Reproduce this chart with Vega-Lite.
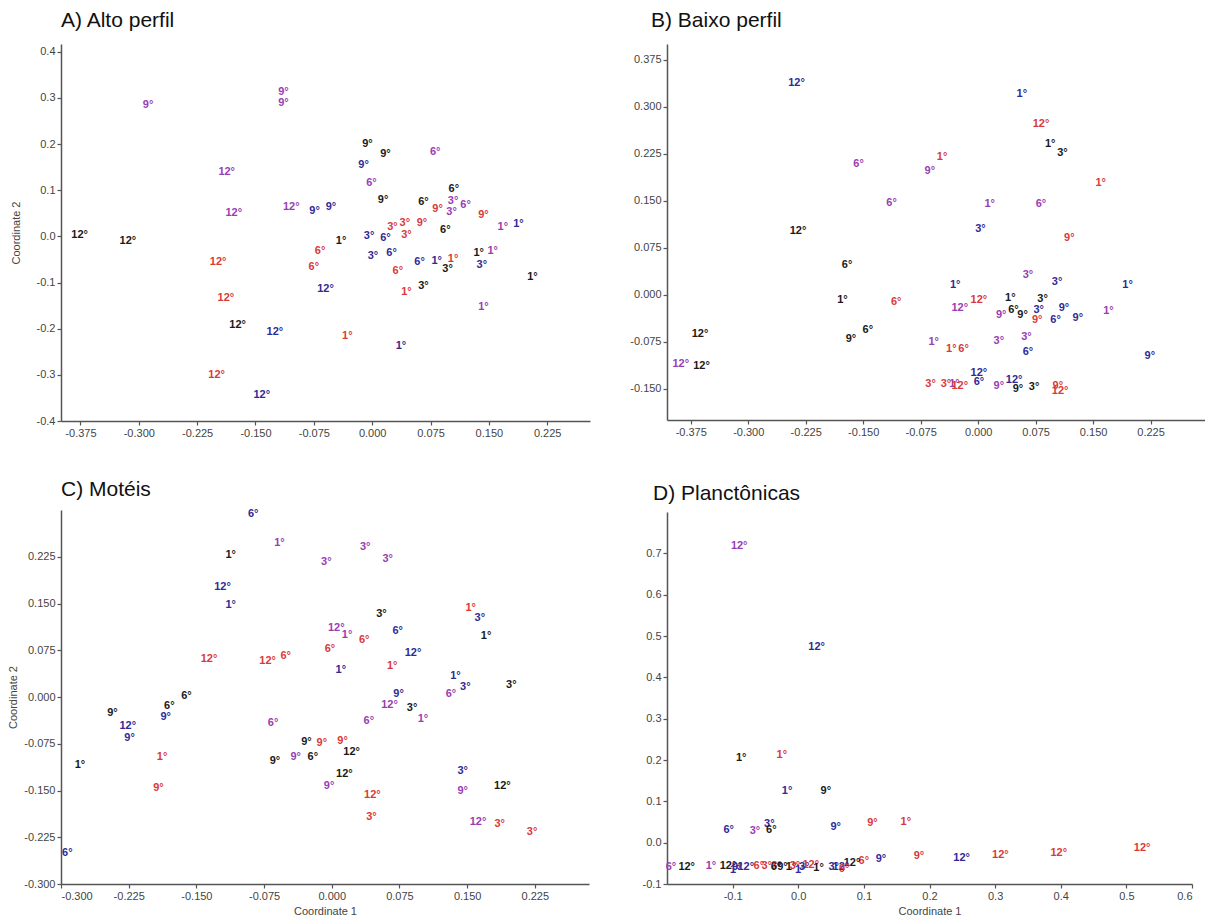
{
"$schema": "https://vega.github.io/schema/vega-lite/v6.json",
"padding": {"left": 7, "top": 10, "right": 0, "bottom": 0},
"background": "white",
"config": {
  "view": {"stroke": null},
  "axis": {"grid": false, "domainColor": "#555", "domainWidth": 1.5, "tickColor": "#555", "tickSize": 4, "tickWidth": 1.2, "labelColor": "#444", "labelFont": "Liberation Sans", "labelFontSize": 11, "labelPadding": 2, "titleFont": "Liberation Sans", "titleFontSize": 11, "titleFontWeight": "normal", "titleColor": "#444"},
  "title": {"font": "Liberation Sans", "fontSize": 21, "fontWeight": "normal", "color": "#111", "anchor": "start", "frame": "group"},
  "text": {"font": "Liberation Sans", "fontSize": 11, "fontWeight": "bold"}
},
"datasets": {"pts": [
{"p":"A","t":"9°","c":"roxo","x":-0.288,"y":0.284},
{"p":"A","t":"9°","c":"roxo","x":-0.114,"y":0.312},
{"p":"A","t":"9°","c":"roxo","x":-0.114,"y":0.289},
{"p":"A","t":"12°","c":"roxo","x":-0.187,"y":0.139},
{"p":"A","t":"12°","c":"roxo","x":-0.178,"y":0.050},
{"p":"A","t":"12°","c":"roxo","x":-0.104,"y":0.063},
{"p":"A","t":"9°","c":"azul","x":-0.074,"y":0.056},
{"p":"A","t":"9°","c":"azul","x":-0.053,"y":0.063},
{"p":"A","t":"9°","c":"preto","x":-0.006,"y":0.200},
{"p":"A","t":"9°","c":"preto","x":0.017,"y":0.178},
{"p":"A","t":"9°","c":"azul","x":-0.011,"y":0.154},
{"p":"A","t":"6°","c":"roxo","x":-0.001,"y":0.115},
{"p":"A","t":"9°","c":"preto","x":0.014,"y":0.078},
{"p":"A","t":"6°","c":"roxo","x":0.081,"y":0.184},
{"p":"A","t":"6°","c":"preto","x":0.105,"y":0.102},
{"p":"A","t":"6°","c":"preto","x":0.066,"y":0.074},
{"p":"A","t":"9°","c":"vermelho","x":0.084,"y":0.059},
{"p":"A","t":"3°","c":"roxo","x":0.104,"y":0.076},
{"p":"A","t":"3°","c":"roxo","x":0.102,"y":0.052},
{"p":"A","t":"6°","c":"roxo","x":0.120,"y":0.069},
{"p":"A","t":"3°","c":"vermelho","x":0.026,"y":0.020},
{"p":"A","t":"3°","c":"vermelho","x":0.042,"y":0.030},
{"p":"A","t":"9°","c":"vermelho","x":0.064,"y":0.030},
{"p":"A","t":"3°","c":"vermelho","x":0.044,"y":0.004},
{"p":"A","t":"9°","c":"vermelho","x":0.143,"y":0.046},
{"p":"A","t":"1°","c":"roxo","x":0.168,"y":0.020},
{"p":"A","t":"1°","c":"azul","x":0.188,"y":0.026},
{"p":"A","t":"6°","c":"preto","x":0.094,"y":0.013},
{"p":"A","t":"12°","c":"preto","x":-0.376,"y":0.002},
{"p":"A","t":"12°","c":"preto","x":-0.314,"y":-0.009},
{"p":"A","t":"1°","c":"preto","x":-0.040,"y":-0.011},
{"p":"A","t":"3°","c":"azul","x":-0.004,"y":0.000},
{"p":"A","t":"6°","c":"azul","x":0.017,"y":-0.004},
{"p":"A","t":"6°","c":"vermelho","x":-0.067,"y":-0.031},
{"p":"A","t":"3°","c":"azul","x":0.001,"y":-0.042},
{"p":"A","t":"6°","c":"azul","x":0.025,"y":-0.036},
{"p":"A","t":"12°","c":"vermelho","x":-0.198,"y":-0.055},
{"p":"A","t":"6°","c":"vermelho","x":-0.075,"y":-0.066},
{"p":"A","t":"6°","c":"vermelho","x":0.033,"y":-0.074},
{"p":"A","t":"6°","c":"azul","x":0.061,"y":-0.056},
{"p":"A","t":"1°","c":"azul","x":0.083,"y":-0.053},
{"p":"A","t":"1°","c":"vermelho","x":0.104,"y":-0.048},
{"p":"A","t":"3°","c":"preto","x":0.097,"y":-0.071},
{"p":"A","t":"1°","c":"preto","x":0.137,"y":-0.036},
{"p":"A","t":"1°","c":"roxo","x":0.155,"y":-0.031},
{"p":"A","t":"3°","c":"azul","x":0.141,"y":-0.062},
{"p":"A","t":"12°","c":"azul","x":-0.060,"y":-0.113},
{"p":"A","t":"1°","c":"vermelho","x":0.044,"y":-0.121},
{"p":"A","t":"3°","c":"preto","x":0.066,"y":-0.107},
{"p":"A","t":"1°","c":"preto","x":0.206,"y":-0.089},
{"p":"A","t":"12°","c":"vermelho","x":-0.188,"y":-0.134},
{"p":"A","t":"1°","c":"roxo","x":0.143,"y":-0.154},
{"p":"A","t":"12°","c":"preto","x":-0.173,"y":-0.192},
{"p":"A","t":"12°","c":"azul","x":-0.125,"y":-0.208},
{"p":"A","t":"1°","c":"vermelho","x":-0.032,"y":-0.215},
{"p":"A","t":"1°","c":"azul","x":0.037,"y":-0.237},
{"p":"A","t":"12°","c":"vermelho","x":-0.200,"y":-0.301},
{"p":"A","t":"12°","c":"azul","x":-0.142,"y":-0.344},

{"p":"B","t":"12°","c":"azul","x":-0.237,"y":0.338},
{"p":"B","t":"6°","c":"roxo","x":-0.156,"y":0.209},
{"p":"B","t":"6°","c":"roxo","x":-0.113,"y":0.147},
{"p":"B","t":"12°","c":"preto","x":-0.235,"y":0.101},
{"p":"B","t":"1°","c":"azul","x":0.057,"y":0.321},
{"p":"B","t":"12°","c":"vermelho","x":0.082,"y":0.272},
{"p":"B","t":"1°","c":"preto","x":0.094,"y":0.240},
{"p":"B","t":"3°","c":"preto","x":0.110,"y":0.226},
{"p":"B","t":"1°","c":"vermelho","x":-0.047,"y":0.219},
{"p":"B","t":"9°","c":"roxo","x":-0.063,"y":0.197},
{"p":"B","t":"1°","c":"vermelho","x":0.160,"y":0.178},
{"p":"B","t":"1°","c":"roxo","x":0.015,"y":0.145},
{"p":"B","t":"6°","c":"roxo","x":0.082,"y":0.145},
{"p":"B","t":"3°","c":"azul","x":0.003,"y":0.104},
{"p":"B","t":"9°","c":"vermelho","x":0.119,"y":0.091},
{"p":"B","t":"6°","c":"preto","x":-0.171,"y":0.048},
{"p":"B","t":"3°","c":"roxo","x":0.065,"y":0.032},
{"p":"B","t":"3°","c":"azul","x":0.103,"y":0.020},
{"p":"B","t":"1°","c":"azul","x":0.195,"y":0.015},
{"p":"B","t":"1°","c":"azul","x":-0.030,"y":0.015},
{"p":"B","t":"1°","c":"preto","x":-0.177,"y":-0.009},
{"p":"B","t":"6°","c":"vermelho","x":-0.107,"y":-0.012},
{"p":"B","t":"12°","c":"roxo","x":-0.024,"y":-0.021},
{"p":"B","t":"12°","c":"vermelho","x":0.001,"y":-0.008},
{"p":"B","t":"1°","c":"preto","x":0.042,"y":-0.006},
{"p":"B","t":"6°","c":"preto","x":0.046,"y":-0.024},
{"p":"B","t":"3°","c":"preto","x":0.084,"y":-0.007},
{"p":"B","t":"9°","c":"roxo","x":0.030,"y":-0.033},
{"p":"B","t":"9°","c":"preto","x":0.058,"y":-0.033},
{"p":"B","t":"9°","c":"vermelho","x":0.077,"y":-0.040},
{"p":"B","t":"3°","c":"azul","x":0.079,"y":-0.024},
{"p":"B","t":"9°","c":"azul","x":0.112,"y":-0.022},
{"p":"B","t":"6°","c":"azul","x":0.101,"y":-0.041},
{"p":"B","t":"9°","c":"azul","x":0.130,"y":-0.037},
{"p":"B","t":"1°","c":"roxo","x":0.170,"y":-0.026},
{"p":"B","t":"12°","c":"preto","x":-0.363,"y":-0.062},
{"p":"B","t":"9°","c":"preto","x":-0.166,"y":-0.070},
{"p":"B","t":"6°","c":"preto","x":-0.144,"y":-0.057},
{"p":"B","t":"1°","c":"roxo","x":-0.058,"y":-0.076},
{"p":"B","t":"1°","c":"vermelho","x":-0.035,"y":-0.086},
{"p":"B","t":"6°","c":"vermelho","x":-0.019,"y":-0.086},
{"p":"B","t":"3°","c":"roxo","x":0.027,"y":-0.074},
{"p":"B","t":"3°","c":"roxo","x":0.063,"y":-0.067},
{"p":"B","t":"6°","c":"azul","x":0.065,"y":-0.092},
{"p":"B","t":"9°","c":"azul","x":0.224,"y":-0.098},
{"p":"B","t":"12°","c":"roxo","x":-0.388,"y":-0.111},
{"p":"B","t":"12°","c":"preto","x":-0.361,"y":-0.114},
{"p":"B","t":"12°","c":"azul","x":0.001,"y":-0.125},
{"p":"B","t":"6°","c":"azul","x":0.001,"y":-0.139},
{"p":"B","t":"12°","c":"azul","x":0.047,"y":-0.136},
{"p":"B","t":"3°","c":"vermelho","x":-0.062,"y":-0.143},
{"p":"B","t":"3°","c":"vermelho","x":-0.042,"y":-0.143},
{"p":"B","t":"1°","c":"roxo","x":-0.031,"y":-0.142},
{"p":"B","t":"12°","c":"vermelho","x":-0.024,"y":-0.146},
{"p":"B","t":"9°","c":"roxo","x":0.027,"y":-0.145},
{"p":"B","t":"9°","c":"preto","x":0.052,"y":-0.150},
{"p":"B","t":"3°","c":"preto","x":0.073,"y":-0.148},
{"p":"B","t":"9°","c":"vermelho","x":0.104,"y":-0.146},
{"p":"B","t":"12°","c":"vermelho","x":0.107,"y":-0.153},

{"p":"C","t":"6°","c":"azul","x":-0.087,"y":0.294},
{"p":"C","t":"1°","c":"roxo","x":-0.058,"y":0.247},
{"p":"C","t":"1°","c":"preto","x":-0.112,"y":0.228},
{"p":"C","t":"12°","c":"azul","x":-0.121,"y":0.177},
{"p":"C","t":"1°","c":"azul","x":-0.112,"y":0.147},
{"p":"C","t":"12°","c":"vermelho","x":-0.136,"y":0.061},
{"p":"C","t":"12°","c":"vermelho","x":-0.071,"y":0.057},
{"p":"C","t":"6°","c":"vermelho","x":-0.051,"y":0.065},
{"p":"C","t":"3°","c":"roxo","x":-0.006,"y":0.217},
{"p":"C","t":"3°","c":"roxo","x":0.037,"y":0.240},
{"p":"C","t":"3°","c":"roxo","x":0.062,"y":0.221},
{"p":"C","t":"3°","c":"preto","x":0.055,"y":0.133},
{"p":"C","t":"1°","c":"vermelho","x":0.154,"y":0.143},
{"p":"C","t":"3°","c":"azul","x":0.164,"y":0.126},
{"p":"C","t":"1°","c":"preto","x":0.171,"y":0.098},
{"p":"C","t":"12°","c":"roxo","x":0.005,"y":0.110},
{"p":"C","t":"1°","c":"roxo","x":0.017,"y":0.099},
{"p":"C","t":"6°","c":"vermelho","x":0.036,"y":0.092},
{"p":"C","t":"6°","c":"azul","x":0.073,"y":0.106},
{"p":"C","t":"6°","c":"vermelho","x":-0.002,"y":0.077},
{"p":"C","t":"12°","c":"azul","x":0.090,"y":0.071},
{"p":"C","t":"1°","c":"azul","x":0.010,"y":0.043},
{"p":"C","t":"1°","c":"vermelho","x":0.067,"y":0.050},
{"p":"C","t":"1°","c":"azul","x":0.137,"y":0.033},
{"p":"C","t":"3°","c":"azul","x":0.148,"y":0.016},
{"p":"C","t":"3°","c":"preto","x":0.199,"y":0.019},
{"p":"C","t":"6°","c":"roxo","x":0.132,"y":0.005},
{"p":"C","t":"9°","c":"azul","x":0.074,"y":0.005},
{"p":"C","t":"12°","c":"roxo","x":0.064,"y":-0.013},
{"p":"C","t":"3°","c":"preto","x":0.089,"y":-0.018},
{"p":"C","t":"1°","c":"roxo","x":0.101,"y":-0.036},
{"p":"C","t":"6°","c":"roxo","x":0.041,"y":-0.038},
{"p":"C","t":"6°","c":"roxo","x":-0.065,"y":-0.041},
{"p":"C","t":"9°","c":"preto","x":-0.243,"y":-0.025},
{"p":"C","t":"6°","c":"preto","x":-0.180,"y":-0.014},
{"p":"C","t":"6°","c":"preto","x":-0.161,"y":0.002},
{"p":"C","t":"9°","c":"azul","x":-0.184,"y":-0.032},
{"p":"C","t":"12°","c":"azul","x":-0.226,"y":-0.046},
{"p":"C","t":"9°","c":"azul","x":-0.224,"y":-0.065},
{"p":"C","t":"1°","c":"vermelho","x":-0.188,"y":-0.097},
{"p":"C","t":"1°","c":"preto","x":-0.279,"y":-0.109},
{"p":"C","t":"9°","c":"vermelho","x":-0.192,"y":-0.146},
{"p":"C","t":"6°","c":"azul","x":-0.293,"y":-0.250},
{"p":"C","t":"9°","c":"preto","x":-0.028,"y":-0.072},
{"p":"C","t":"9°","c":"vermelho","x":-0.011,"y":-0.074},
{"p":"C","t":"9°","c":"vermelho","x":0.012,"y":-0.070},
{"p":"C","t":"9°","c":"preto","x":-0.063,"y":-0.102},
{"p":"C","t":"9°","c":"roxo","x":-0.040,"y":-0.097},
{"p":"C","t":"6°","c":"preto","x":-0.021,"y":-0.096},
{"p":"C","t":"12°","c":"preto","x":0.022,"y":-0.089},
{"p":"C","t":"12°","c":"preto","x":0.014,"y":-0.123},
{"p":"C","t":"9°","c":"roxo","x":-0.003,"y":-0.143},
{"p":"C","t":"12°","c":"vermelho","x":0.045,"y":-0.157},
{"p":"C","t":"3°","c":"vermelho","x":0.044,"y":-0.192},
{"p":"C","t":"3°","c":"azul","x":0.145,"y":-0.118},
{"p":"C","t":"9°","c":"roxo","x":0.145,"y":-0.150},
{"p":"C","t":"12°","c":"preto","x":0.189,"y":-0.143},
{"p":"C","t":"12°","c":"roxo","x":0.162,"y":-0.201},
{"p":"C","t":"3°","c":"vermelho","x":0.186,"y":-0.204},
{"p":"C","t":"3°","c":"vermelho","x":0.222,"y":-0.217},

{"p":"D","t":"12°","c":"roxo","x":-0.090,"y":0.717},
{"p":"D","t":"12°","c":"azul","x":0.028,"y":0.473},
{"p":"D","t":"1°","c":"preto","x":-0.087,"y":0.205},
{"p":"D","t":"1°","c":"vermelho","x":-0.025,"y":0.212},
{"p":"D","t":"1°","c":"azul","x":-0.017,"y":0.124},
{"p":"D","t":"9°","c":"preto","x":0.042,"y":0.125},
{"p":"D","t":"6°","c":"azul","x":-0.106,"y":0.031},
{"p":"D","t":"3°","c":"roxo","x":-0.066,"y":0.029},
{"p":"D","t":"3°","c":"azul","x":-0.044,"y":0.046},
{"p":"D","t":"6°","c":"preto","x":-0.041,"y":0.030},
{"p":"D","t":"9°","c":"azul","x":0.057,"y":0.037},
{"p":"D","t":"9°","c":"vermelho","x":0.113,"y":0.047},
{"p":"D","t":"1°","c":"vermelho","x":0.164,"y":0.050},
{"p":"D","t":"9°","c":"vermelho","x":0.184,"y":-0.033},
{"p":"D","t":"12°","c":"azul","x":0.249,"y":-0.036},
{"p":"D","t":"12°","c":"vermelho","x":0.308,"y":-0.030},
{"p":"D","t":"12°","c":"vermelho","x":0.397,"y":-0.025},
{"p":"D","t":"12°","c":"vermelho","x":0.524,"y":-0.012},
{"p":"D","t":"9°","c":"azul","x":0.126,"y":-0.040},
{"p":"D","t":"6°","c":"vermelho","x":0.100,"y":-0.044},
{"p":"D","t":"12°","c":"preto","x":0.082,"y":-0.048},
{"p":"D","t":"6°","c":"roxo","x":-0.194,"y":-0.058},
{"p":"D","t":"12°","c":"preto","x":-0.170,"y":-0.058},
{"p":"D","t":"1°","c":"roxo","x":-0.133,"y":-0.056},
{"p":"D","t":"12°","c":"preto","x":-0.107,"y":-0.056},
{"p":"D","t":"9°","c":"azul","x":-0.093,"y":-0.058},
{"p":"D","t":"12°","c":"azul","x":-0.080,"y":-0.058},
{"p":"D","t":"1°","c":"azul","x":-0.096,"y":-0.066},
{"p":"D","t":"6°","c":"vermelho","x":-0.060,"y":-0.057},
{"p":"D","t":"3°","c":"vermelho","x":-0.048,"y":-0.057},
{"p":"D","t":"3°","c":"vermelho","x":-0.033,"y":-0.057},
{"p":"D","t":"6°","c":"preto","x":-0.034,"y":-0.058},
{"p":"D","t":"9°","c":"preto","x":-0.024,"y":-0.058},
{"p":"D","t":"1°","c":"preto","x":-0.011,"y":-0.058},
{"p":"D","t":"3°","c":"vermelho","x":-0.005,"y":-0.056},
{"p":"D","t":"3°","c":"azul","x":0.009,"y":-0.058},
{"p":"D","t":"12°","c":"vermelho","x":0.019,"y":-0.054},
{"p":"D","t":"1°","c":"azul","x":0.003,"y":-0.066},
{"p":"D","t":"1°","c":"preto","x":0.031,"y":-0.062},
{"p":"D","t":"3°","c":"azul","x":0.054,"y":-0.058},
{"p":"D","t":"12°","c":"azul","x":0.065,"y":-0.060},
{"p":"D","t":"9°","c":"vermelho","x":0.070,"y":-0.064}
]},
"spacing": 39,
"hconcat": [
 {"spacing": 40, "vconcat": [
  {"title": {"text": "A) Alto perfil", "offset": 13},
   "width": 529, "height": 377,
   "data": {"name": "pts"},
   "transform": [{"filter": "datum.p == 'A'"}],
   "mark": {"type": "text"},
   "encoding": {
     "x": {"field": "x", "type": "quantitative", "scale": {"domain": [-0.4, 0.28], "nice": false, "zero": false},
           "axis": {"title": null, "values": [-0.375,-0.3,-0.225,-0.15,-0.075,0,0.075,0.15,0.225], "labelExpr": "replace(format(datum.value,'.3f'),'\u2212','-')"}},
     "y": {"field": "y", "type": "quantitative", "scale": {"domain": [-0.4, 0.417], "nice": false, "zero": false},
           "axis": {"title": "Coordinate 2", "titlePadding": 15, "values": [-0.4,-0.3,-0.2,-0.1,0,0.1,0.2,0.3,0.4], "labelExpr": "replace(format(datum.value,'.1f'),'\u2212','-')"}},
     "text": {"field": "t"},
     "color": {"field": "c", "type": "nominal", "scale": {"domain": ["preto","azul","roxo","vermelho"], "range": ["#1a1a1a","#2f2b96","#9a3db3","#d93a3a"]}, "legend": null}
   }},
  {"title": {"text": "C) Motéis", "offset": 8},
   "width": 528, "height": 374,
   "data": {"name": "pts"},
   "transform": [{"filter": "datum.p == 'C'"}],
   "mark": {"type": "text"},
   "encoding": {
     "x": {"field": "x", "type": "quantitative", "scale": {"domain": [-0.3, 0.285], "nice": false, "zero": false},
           "axis": {"title": "Coordinate 1", "titlePadding": 4, "values": [-0.3,-0.225,-0.15,-0.075,0,0.075,0.15,0.225], "labelExpr": "replace(format(datum.value,'.3f'),'\u2212','-')"}},
     "y": {"field": "y", "type": "quantitative", "scale": {"domain": [-0.3, 0.3], "nice": false, "zero": false},
           "axis": {"title": "Coordinate 2", "titlePadding": 5, "values": [-0.3,-0.225,-0.15,-0.075,0,0.075,0.15,0.225], "labelExpr": "replace(format(datum.value,'.3f'),'\u2212','-')"}},
     "text": {"field": "t"},
     "color": {"field": "c", "type": "nominal", "scale": {"domain": ["preto","azul","roxo","vermelho"], "range": ["#1a1a1a","#2f2b96","#9a3db3","#d93a3a"]}, "legend": null}
   }}
 ]},
 {"spacing": 46, "vconcat": [
  {"title": {"text": "B) Baixo perfil", "offset": 13, "dx": -16},
   "width": 538, "height": 376,
   "data": {"name": "pts"},
   "transform": [{"filter": "datum.p == 'B'"}],
   "mark": {"type": "text"},
   "encoding": {
     "x": {"field": "x", "type": "quantitative", "scale": {"domain": [-0.406, 0.296], "nice": false, "zero": false},
           "axis": {"title": null, "values": [-0.375,-0.3,-0.225,-0.15,-0.075,0,0.075,0.15,0.225], "labelExpr": "replace(format(datum.value,'.3f'),'\u2212','-')"}},
     "y": {"field": "y", "type": "quantitative", "scale": {"domain": [-0.2, 0.4], "nice": false, "zero": false},
           "axis": {"title": null, "values": [-0.15,-0.075,0,0.075,0.15,0.225,0.3,0.375], "labelExpr": "replace(format(datum.value,'.3f'),'\u2212','-')"}},
     "text": {"field": "t"},
     "color": {"field": "c", "type": "nominal", "scale": {"domain": ["preto","azul","roxo","vermelho"], "range": ["#1a1a1a","#2f2b96","#9a3db3","#d93a3a"]}, "legend": null}
   }},
  {"title": {"text": "D) Planctônicas", "offset": 8, "dx": -14},
   "width": 525, "height": 372,
   "data": {"name": "pts"},
   "transform": [{"filter": "datum.p == 'D'"}],
   "mark": {"type": "text"},
   "encoding": {
     "x": {"field": "x", "type": "quantitative", "scale": {"domain": [-0.2, 0.6], "nice": false, "zero": false},
           "axis": {"title": "Coordinate 1", "titlePadding": 4, "values": [-0.1,0,0.1,0.2,0.3,0.4,0.5,0.6], "labelExpr": "replace(format(datum.value,'.1f'),'\u2212','-')"}},
     "y": {"field": "y", "type": "quantitative", "scale": {"domain": [-0.1, 0.8], "nice": false, "zero": false},
           "axis": {"title": null, "values": [-0.1,0,0.1,0.2,0.3,0.4,0.5,0.6,0.7], "labelExpr": "replace(format(datum.value,'.1f'),'\u2212','-')"}},
     "text": {"field": "t"},
     "color": {"field": "c", "type": "nominal", "scale": {"domain": ["preto","azul","roxo","vermelho"], "range": ["#1a1a1a","#2f2b96","#9a3db3","#d93a3a"]}, "legend": null}
   }}
 ]}
]
}
